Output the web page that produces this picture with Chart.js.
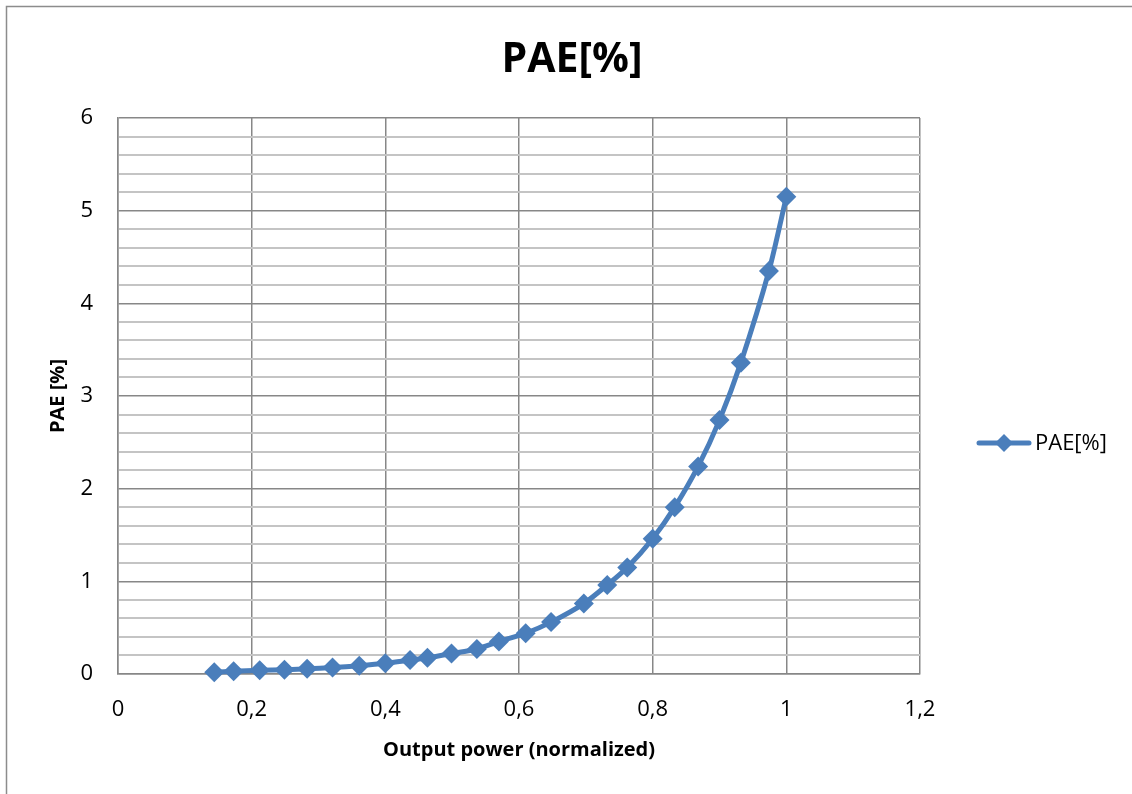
<!DOCTYPE html>
<html>
<head>
<meta charset="utf-8">
<title>PAE[%]</title>
<script src="https://cdn.jsdelivr.net/npm/chart.js@4.4.1/dist/chart.umd.min.js"></script>
<style>
  html, body { margin: 0; padding: 0; background: #ffffff; }
  #wrap { width: 1132px; height: 794px; position: relative; }
</style>
</head>
<body>
<div id="wrap"><canvas id="c" width="1132" height="794"></canvas></div>
<script>
// Normalized output power (x) and power-added efficiency in percent (y)
const outputPower = [
  0.144, 0.173, 0.212, 0.249, 0.283, 0.321, 0.361, 0.400, 0.437, 0.463,
  0.499, 0.537, 0.570, 0.610, 0.648, 0.697, 0.732, 0.762, 0.800, 0.833,
  0.868, 0.900, 0.932, 0.974, 1.000
];
const paePercent = [
  0.02, 0.03, 0.04, 0.045, 0.056, 0.07, 0.09, 0.115, 0.15, 0.175,
  0.22, 0.27, 0.35, 0.44, 0.56, 0.76, 0.96, 1.15, 1.46, 1.80,
  2.24, 2.74, 3.36, 4.35, 5.15
];
const seriesName = 'PAE[%]';
const chartTitle = 'PAE[%]';
const xAxisTitle = 'Output power (normalized)';
const yAxisTitle = 'PAE [%]';

const BLUE = '#4a7ebb';
const FONT = '"Open Sans", "Liberation Sans", sans-serif';

const points = outputPower.map((x, i) => ({ x: x, y: paePercent[i] }));

const fmtComma = v => {
  const n = Math.round(v * 10) / 10;
  return String(n).replace('.', ',');
};

// Frame, title and the line-with-marker legend entry
const decorations = {
  id: 'decorations',
  beforeDraw(chart) {
    const ctx = chart.ctx;
    ctx.save();
    ctx.fillStyle = '#ffffff';
    ctx.fillRect(0, 0, chart.width, chart.height);
    ctx.strokeStyle = '#8c8c8c';
    ctx.lineWidth = 1.5;
    ctx.strokeRect(6.5, 6.5, chart.width + 10, chart.height + 10);
    ctx.restore();
  },
  afterDraw(chart) {
    const ctx = chart.ctx;
    ctx.save();
    ctx.fillStyle = '#000000';
    ctx.font = 'bold 41px ' + FONT;
    ctx.textAlign = 'center';
    ctx.textBaseline = 'alphabetic';
    ctx.fillText(chartTitle, 572, 72);

    // legend
    const ly = 443;
    ctx.strokeStyle = BLUE;
    ctx.lineWidth = 5;
    ctx.lineCap = 'round';
    ctx.beginPath();
    ctx.moveTo(979, ly);
    ctx.lineTo(1029, ly);
    ctx.stroke();
    ctx.fillStyle = BLUE;
    ctx.beginPath();
    ctx.moveTo(1004, ly - 9);
    ctx.lineTo(1013, ly);
    ctx.lineTo(1004, ly + 9);
    ctx.lineTo(995, ly);
    ctx.closePath();
    ctx.fill();
    ctx.fillStyle = '#000000';
    ctx.font = '22px ' + FONT;
    ctx.textAlign = 'left';
    ctx.textBaseline = 'middle';
    ctx.fillText(seriesName, 1035, ly + 1);
    ctx.restore();
  }
};

new Chart(document.getElementById('c'), {
  type: 'scatter',
  data: {
    datasets: [{
      label: seriesName,
      data: points,
      showLine: true,
      tension: 0.25,
      borderColor: BLUE,
      backgroundColor: BLUE,
      borderWidth: 5,
      pointStyle: 'rectRot',
      pointRadius: 10,
      pointHoverRadius: 10,
      pointBorderWidth: 0,
      clip: false
    }]
  },
  options: {
    responsive: false,
    animation: false,
    devicePixelRatio: 1,
    layout: { padding: { left: 6, right: 212, top: 118, bottom: 0 } },
    plugins: {
      legend: { display: false },
      title: { display: false },
      tooltip: { enabled: false }
    },
    scales: {
      x: {
        type: 'linear',
        min: 0,
        max: 1.2,
        afterFit(scale) { scale.height = 120; },
        ticks: {
          stepSize: 0.2,
          callback: v => fmtComma(v),
          color: '#000000',
          font: { family: FONT, size: 22 },
          padding: 23
        },
        grid: { color: '#878787', lineWidth: 1.5, drawTicks: false },
        border: { color: '#878787', width: 1.5 },
        title: {
          display: true,
          text: xAxisTitle,
          color: '#000000',
          font: { family: FONT, size: 20, weight: 'bold' },
          padding: { top: 4, bottom: 32 }
        }
      },
      y: {
        type: 'linear',
        min: 0,
        max: 6,
        afterFit(scale) { scale.width = 112; },
        ticks: {
          stepSize: 0.2,
          autoSkip: false,
          callback: v => {
            const r = Math.round(v * 10) / 10;
            return Number.isInteger(r) ? String(r) : '';
          },
          color: '#000000',
          font: { family: FONT, size: 22 },
          padding: 25
        },
        grid: {
          color: ctx => {
            const r = Math.round(ctx.tick.value * 10) / 10;
            return Number.isInteger(r) ? '#878787' : '#c4c4c4';
          },
          lineWidth: ctx => {
            const r = Math.round(ctx.tick.value * 10) / 10;
            return Number.isInteger(r) ? 1.5 : 2;
          },
          drawTicks: false
        },
        border: { color: '#878787', width: 1.5 },
        title: {
          display: true,
          text: yAxisTitle,
          color: '#000000',
          font: { family: FONT, size: 20, weight: 'bold' },
          padding: { top: 40, bottom: 0 }
        }
      }
    }
  },
  plugins: [decorations]
});
</script>
</body>
</html>
